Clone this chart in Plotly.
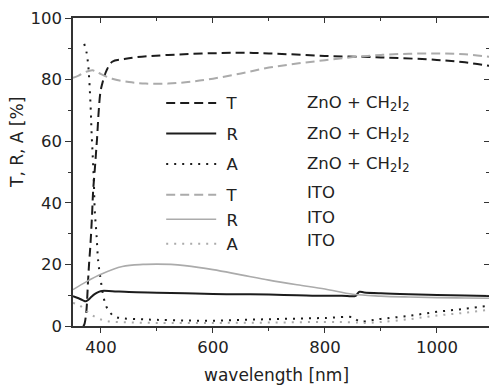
import plotly.graph_objects as go

# ---------------- data ----------------
wl_T_zno = [368, 370, 372, 374, 377, 379, 381, 384, 386, 389, 391, 393, 396, 399, 402, 405, 410, 420,
            440, 460, 520, 640, 700, 800, 900, 1000, 1050, 1100]
T_zno = [0, 0.4, 2, 5, 15, 21, 26, 36, 44, 51, 56, 61, 70, 76, 78.5, 80.5, 83, 85.8,
         86.6, 87.2, 88, 88.7, 88.5, 87.7, 87.2, 86.4, 85.6, 84.3]

wl_R_zno = [350, 360, 367, 373, 378, 383, 390, 396, 402, 420, 450, 500, 550, 600, 650, 700, 750, 800,
            830, 855, 858, 862, 870, 900, 950, 1000, 1050, 1100]
R_zno = [9.7, 9.0, 8.4, 8.0, 8.6, 9.5, 10.5, 11.1, 11.4, 11.3, 11.0, 10.8, 10.6, 10.4, 10.3, 10.2, 10.0, 9.8,
         9.8, 9.8, 10.5, 11.1, 10.9, 10.6, 10.3, 10.1, 9.9, 9.7]

wl_A_zno = [370, 374, 377, 379, 382, 383, 385, 387, 389, 392, 395, 399, 405, 411, 423, 440, 470, 500,
            550, 600, 650, 700, 750, 800, 850, 858, 865, 880, 900, 950, 1000, 1050, 1100]
A_zno = [91.6, 89, 85, 80, 69, 63.6, 56, 48, 37, 29.6, 21, 15.6, 9, 5.8, 3.2, 2.5, 2.2, 2.0,
         1.8, 1.7, 2.0, 2.2, 2.4, 2.6, 2.8, 1.8, 1.4, 1.8, 2.3, 3.3, 4.6, 5.6, 6.8]

wl_T_ito = [350, 360, 370, 380, 385, 390, 400, 420, 450, 480, 520, 560, 600, 650, 700, 750, 800, 850,
            900, 950, 1000, 1050, 1100]
T_ito = [80.6, 81.3, 82.3, 82.9, 83.0, 82.7, 81.8, 80.3, 79.2, 78.7, 78.7, 79.3, 80.3, 82.0, 83.9, 85.2,
         86.3, 87.3, 88.0, 88.4, 88.5, 88.2, 87.3]

wl_R_ito = [350, 375, 400, 438, 475, 500, 525, 550, 600, 650, 700, 750, 800, 850, 900, 950, 1000,
            1050, 1100]
R_ito = [11.8, 14.5, 16.8, 19.3, 20.0, 20.1, 20.0, 19.6, 18.3, 16.6, 14.9, 13.4, 12.0, 10.3, 9.7, 9.4,
         9.2, 9.1, 9.0]

wl_A_ito = [350, 360, 370, 380, 393, 410, 450, 500, 600, 700, 800, 850, 870, 900, 950, 1000, 1050, 1100]
A_ito = [7.5, 6.9, 5.5, 4.0, 2.6, 1.6, 1.2, 1.0, 1.0, 1.1, 1.3, 1.2, 1.0, 1.3, 2.2, 3.4, 4.3, 5.4]

x_range = [350, 1093]
y_range = [0, 100]
x_ticks = [400, 600, 800, 1000]
y_ticks = [0, 20, 40, 60, 80, 100]

zno = "ZnO + CH<sub>2</sub>I<sub>2</sub>"
ito = "ITO"

BLACK = "#1c1c1c"
GRAY = "#ababab"
FONT = "DejaVu Sans, sans-serif"
TXT = "#222222"
FS = 16.5

# (x, y, quantity, material, colour, dash, width, legend)
series = [
    (wl_T_zno, T_zno, "T", zno, BLACK, "9px,5px", 2, "legend"),
    (wl_R_zno, R_zno, "R", zno, BLACK, "solid", 2, "legend"),
    (wl_A_zno, A_zno, "A", zno, BLACK, "2px,6px", 2, "legend"),
    (wl_T_ito, T_ito, "T", ito, GRAY, "9px,5px", 2, "legend2"),
    (wl_R_ito, R_ito, "R", ito, GRAY, "solid", 1.6, "legend2"),
    (wl_A_ito, A_ito, "A", ito, GRAY, "2px,6px", 2, "legend2"),
]

fig = go.Figure()
for i, (xs, ys, q, mat, col, dash, w, leg) in enumerate(series):
    fig.add_trace(go.Scatter(
        x=xs, y=ys, mode="lines", name="\u00a0" + q, legend=leg, legendgroup=f"g{i}",
        line=dict(color=col, dash=dash, width=w), line_shape="spline",
    ))

# helper trace to activate mirrored axes
fig.add_trace(go.Scatter(x=[None], y=[None], xaxis="x2", yaxis="y2",
                         showlegend=False, hoverinfo="skip"))

# material labels next to legend entries (pixel rows of reference)
row_y_px = [103, 134, 164, 193, 217, 240]
plot_top, plot_bottom, plot_left, plot_w = 18, 326, 73, 416
annotations = []
for (xs, ys, q, mat, col, dash, w, leg), ypx in zip(series, row_y_px):
    annotations.append(dict(
        xref="paper", yref="paper", x=(305 - plot_left) / plot_w,
        y=(plot_bottom - ypx) / (plot_bottom - plot_top),
        xanchor="left", yanchor="middle", text=mat, showarrow=False,
        font=dict(family=FONT, size=FS, color=TXT),
    ))
# axis titles
annotations.append(dict(xref="paper", yref="paper", x=(276 - plot_left) / plot_w,
                        y=(plot_bottom - 375) / (plot_bottom - plot_top),
                        xanchor="center", yanchor="middle", text="wavelength [nm]",
                        showarrow=False, font=dict(family=FONT, size=17, color=TXT)))
annotations.append(dict(xref="paper", yref="paper", x=(17 - plot_left) / plot_w,
                        y=(plot_bottom - 143) / (plot_bottom - plot_top),
                        xanchor="center", yanchor="middle", text="T, R, A [%]", textangle=-90,
                        showarrow=False, font=dict(family=FONT, size=17, color=TXT)))

axis_common = dict(showgrid=False, zeroline=False, linecolor="#333", linewidth=1.5,
                   tickcolor="#333", tickwidth=1.2)

legend_common = dict(xanchor="left", yanchor="top", bgcolor="rgba(0,0,0,0)", borderwidth=0,
                     font=dict(family=FONT, size=FS, color=TXT), itemwidth=50)

fig.update_layout(
    width=489, height=387,
    margin=dict(l=73, r=0, t=18, b=61),
    paper_bgcolor="white", plot_bgcolor="white",
    font=dict(family=FONT, size=FS, color=TXT),
    showlegend=True,
    legend=dict(x=0.212, y=0.78, tracegroupgap=6, **legend_common),
    legend2=dict(x=0.212, y=0.482, tracegroupgap=0, **legend_common),
    annotations=annotations,
    xaxis=dict(range=x_range, tickvals=x_ticks, ticks="outside", ticklen=5,
               showline=True,
               minor=dict(dtick=100, tick0=0, ticks="outside", ticklen=3, tickcolor="#333"),
               tickfont=dict(family=FONT, size=FS, color=TXT),
               **axis_common),
    yaxis=dict(range=y_range, tickvals=y_ticks, ticks="outside", ticklen=6,
               showline=True,
               minor=dict(dtick=10, tick0=0, ticks="outside", ticklen=3, tickcolor="#333"),
               tickfont=dict(family=FONT, size=FS, color=TXT),
               **axis_common),
    xaxis2=dict(range=x_range, overlaying="x", side="top", anchor="y2",
                tickvals=x_ticks, ticks="inside", ticklen=5, showticklabels=False,
                showline=True,
                minor=dict(dtick=100, tick0=0, ticks="inside", ticklen=3, tickcolor="#333"),
                **axis_common),
    yaxis2=dict(range=y_range, overlaying="y", side="right", anchor="x2",
                tickvals=y_ticks, ticks="inside", ticklen=5, showticklabels=False,
                showline=False,
                minor=dict(dtick=10, tick0=0, ticks="inside", ticklen=3, tickcolor="#333"),
                showgrid=False, zeroline=False, tickcolor="#333", tickwidth=1.2),
)

fig.write_html("out.html")
